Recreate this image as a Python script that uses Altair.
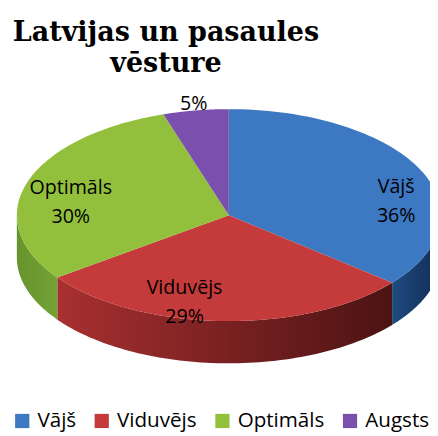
import altair as alt
import pandas as pd

categories = ["Vājš", "Viduvējs", "Optimāls", "Augsts"]
values = [36, 29, 30, 5]
top_colors = ["#3d78c2", "#c53a3a", "#93c03c", "#7a4fae"]
side_gradients = {
    "Vājš": ["#1f4b82", "#102c52"],
    "Viduvējs": ["#a83030", "#7a2121", "#4c1313"],
    "Optimāls": ["#66932c", "#76a336"],
    "Augsts": ["#4f3375", "#3f285e"],
}

# geometry of the tilted pie (window pixel units)
CX, CY, RX, RY, DEPTH = 233, 215, 216, 108, 43
N = 72
PAD_TOP = 80
W, H = 430, 428 - PAD_TOP

df = pd.DataFrame({"cat": categories, "value": values, "k": list(range(len(categories)))})

xscale = alt.Scale(domain=[8, 438], nice=False, zero=False)
yscale = alt.Scale(domain=[8 + PAD_TOP, 436], nice=False, zero=False, reverse=True)
cscale = alt.Scale(domain=categories, range=top_colors)

base = (
    alt.Chart(df)
    .transform_joinaggregate(total="sum(value)")
    .transform_window(cum="sum(value)", sort=[alt.SortField("k")], frame=[None, 0])
    .transform_calculate(
        a0="2*PI*(datum.cum - datum.value)/datum.total",
        a1="2*PI*datum.cum/datum.total",
    )
)

# side walls (front half of the pie), one layer per slice for its shading
side_layers = []
for c in categories:
    cols = side_gradients[c]
    stops = [
        alt.GradientStop(offset=i / (len(cols) - 1), color=col) for i, col in enumerate(cols)
    ]
    grad = alt.LinearGradient(gradient="linear", x1=0, y1=0, x2=1, y2=0, stops=stops)
    s = (
        base.transform_filter(alt.datum.cat == c)
        .transform_calculate(s0="max(datum.a0, PI/2)", s1="min(datum.a1, 3*PI/2)")
        .transform_filter("datum.s0 < datum.s1")
        .transform_calculate(pts=f"sequence(0, {N + 1})")
        .transform_flatten(["pts"])
        .transform_calculate(th=f"datum.s0 + (datum.s1 - datum.s0)*datum.pts/{N}")
        .transform_calculate(
            px=f"{CX} + {RX}*sin(datum.th)",
            ptop=f"{CY} - {RY}*cos(datum.th)",
            pbot=f"{CY} - {RY}*cos(datum.th) + {DEPTH}",
        )
        .mark_area(clip=True, color=grad)
        .encode(
            x=alt.X("px:Q", scale=xscale, axis=None),
            y=alt.Y("ptop:Q", scale=yscale, axis=None, stack=None),
            y2="pbot:Q",
        )
    )
    side_layers.append(s)

# top faces
top = (
    base.transform_calculate(pts=f"sequence(0, {N + 2})")
    .transform_flatten(["pts"])
    .transform_calculate(th=f"datum.a0 + (datum.a1 - datum.a0)*(datum.pts - 1)/{N}")
    .transform_calculate(
        px=f"datum.pts == 0 ? {CX} : {CX} + {RX}*sin(datum.th)",
        py=f"datum.pts == 0 ? {CY} : {CY} - {RY}*cos(datum.th)",
    )
    .mark_line(filled=True, interpolate="linear-closed", clip=True, strokeWidth=0)
    .encode(
        x=alt.X("px:Q", scale=xscale, axis=None),
        y=alt.Y("py:Q", scale=yscale, axis=None),
        color=alt.Color(
            "cat:N",
            scale=cscale,
            legend=alt.Legend(
                orient="none",
                legendX=4,
                legendY=326,
                direction="horizontal",
                title=None,
                symbolType="square",
                symbolSize=210,
                symbolStrokeWidth=0,
                labelFont="Open Sans",
                labelFontSize=21,
                labelColor="black",
                labelOffset=5,
                columnPadding=15,
                padding=0,
                labelLimit=0,
            ),
        ),
        detail="cat:N",
        order="pts:Q",
    )
)

# data labels
offsets = {
    "Vājš": (0.75, 24, 12),
    "Viduvējs": (0.75, -40, -1),
    "Optimāls": (0.75, -7, 3),
    "Augsts": (1.0, -2, 0),
}
label_layers = []
for c, (f, dx, dy) in offsets.items():
    lbl = (
        base.transform_filter(alt.datum.cat == c)
        .transform_calculate(mid="(datum.a0 + datum.a1)/2")
        .transform_calculate(
            lx=f"{CX} + {RX}*{f}*sin(datum.mid)",
            ly=f"{CY} - {RY}*{f}*cos(datum.mid)",
            txt=("datum.value + '%'" if c == "Augsts" else "datum.cat + '\\n' + datum.value + '%'"),
        )
        .mark_text(
            font="Open Sans", fontSize=20, color="black", align="center",
            baseline="alphabetic", lineBreak="\n", lineHeight=30, dx=dx, dy=dy,
        )
        .encode(
            x=alt.X("lx:Q", scale=xscale, axis=None),
            y=alt.Y("ly:Q", scale=yscale, axis=None),
            text="txt:N",
        )
    )
    label_layers.append(lbl)

chart = (
    alt.layer(*side_layers, top, *label_layers)
    .properties(
        width=W,
        height=H,
        autosize=alt.AutoSizeParams(type="none"),
        padding={"top": PAD_TOP, "left": 0, "right": 0, "bottom": 0},
        title=alt.TitleParams(
            text=["Latvijas un pasaules", "vēsture"],
            font="DejaVu Serif",
            fontSize=27.5,
            fontWeight="bold",
            color="black",
            lineHeight=32,
            anchor="middle",
            dx=-54,
            dy=-9,
        ),
    )
    .configure_view(stroke=None)
)

chart.save("out.html", embed_options={"renderer": "svg", "actions": False})
